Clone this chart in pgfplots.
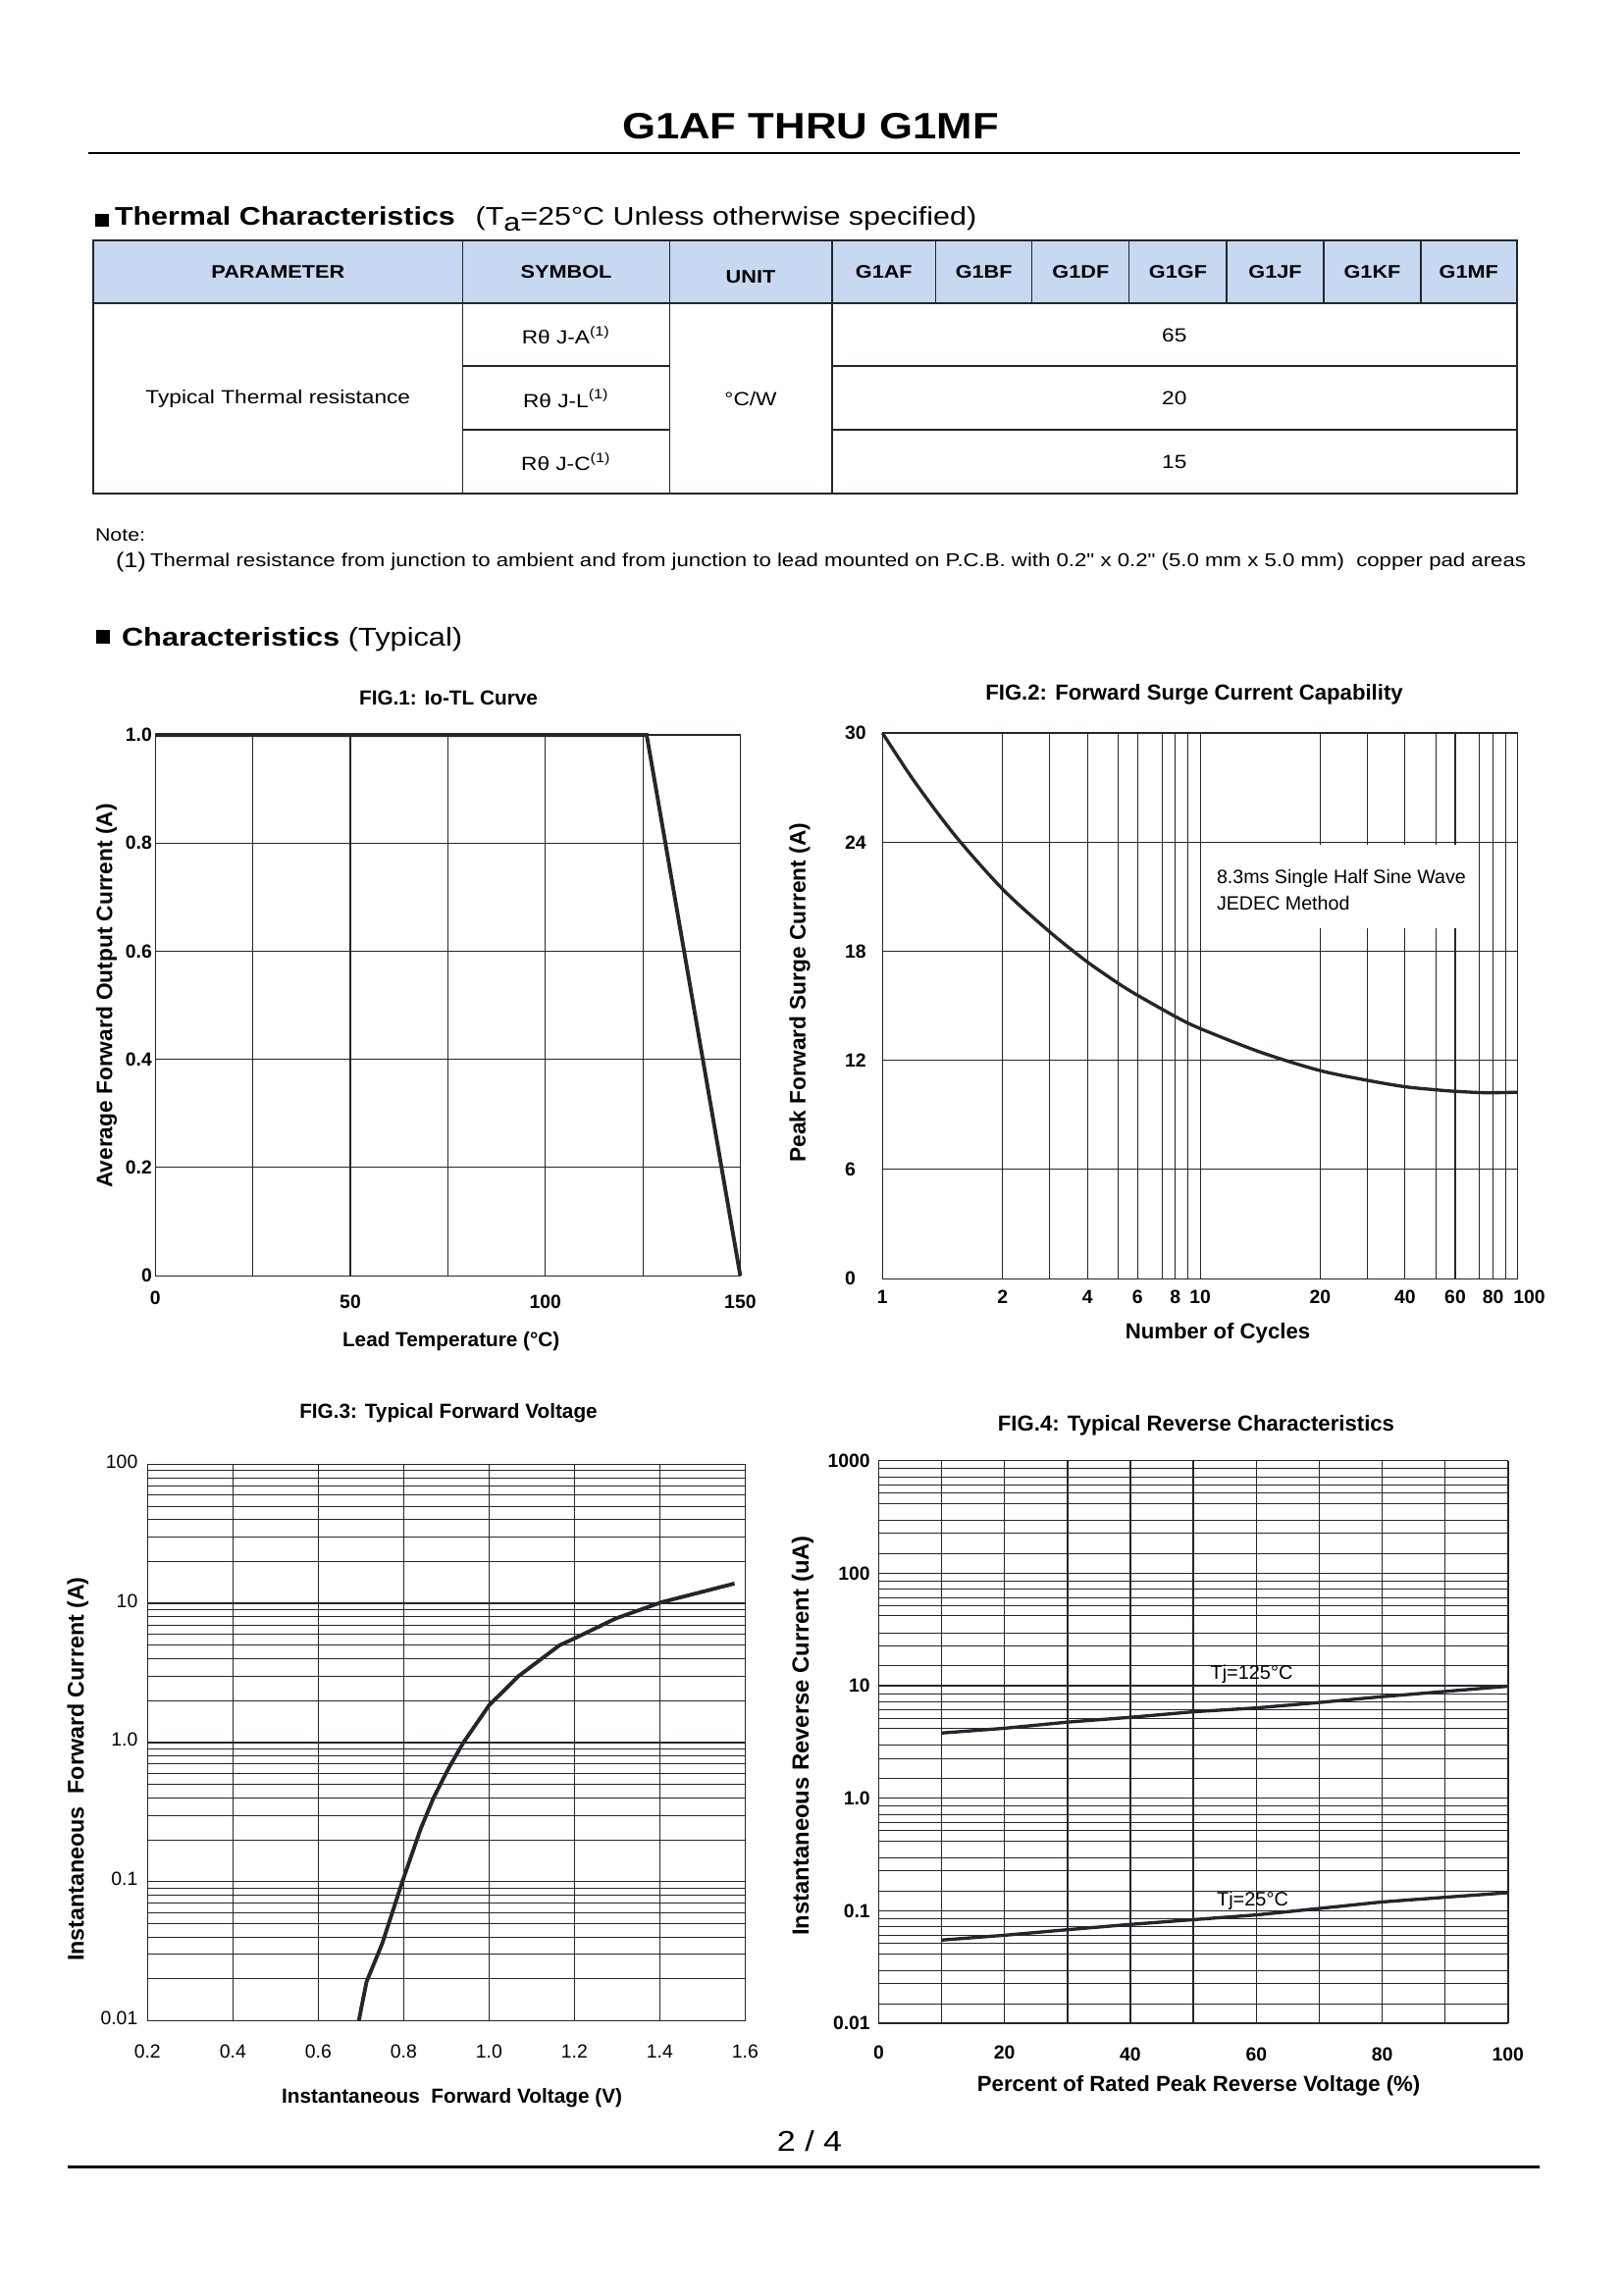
\documentclass[border=0pt]{standalone}
\usepackage{fontspec}
\setmainfont{Liberation Sans}
\newfontfamily\wide[FakeStretch=1.17]{Liberation Sans}
\usepackage{pgfplots}
\pgfplotsset{compat=1.18}

\definecolor{ink}{HTML}{23262B}
\definecolor{hdr}{HTML}{C6D9F1}
\newcommand\fs[1]{\fontsize{#1}{#1}\selectfont}
\newcommand\tk{\fontsize{7}{8}\selectfont\bfseries}

\pgfplotsset{
  dsheet/.style={
    scale only axis, anchor=south west, clip=false,
    axis line style={draw=ink, line width=0.45pt},
    grid=both,
    major grid style={draw=ink, line width=0.4pt},
    minor grid style={draw=ink, line width=0.35pt},
    tick style={draw=none}, major tick length=0pt, minor tick length=0pt,
  },
}

\begin{document}
% page coordinates in pixels of the 1654x2339 sheet, y running down
\begin{tikzpicture}[x=0.12696mm, y=-0.12696mm, every node/.style={inner sep=0pt, outer sep=0pt}]
\path[use as bounding box, fill=white] (0,0) rectangle (1654,2339);

% ---- page header
\node[font=\wide\fs{13.5}\bfseries] at (826,128.3) {G1AF THRU G1MF};
\draw[line width=1pt] (89.7,156) -- (1548.5,156);

\fill (97,218) rectangle (110.5,230.7);
\node[anchor=base west, font=\wide\fs{9.4}] at (117,229.5)
  {\textbf{Thermal Characteristics}\hspace{0.8em}(T\raisebox{-0.45ex}{a}=25°C Unless otherwise specified)};

% ---- thermal table
\fill[hdr] (95,245) rectangle (1545.6,309);
\foreach \x in {471.5,682.5,848} \draw[ink, line width=0.4pt] (\x,245) -- (\x,502.7);
\foreach \x in {953.6,1051.7,1150.9,1250,1349,1448} \draw[ink, line width=0.4pt] (\x,245) -- (\x,309);
\draw[ink, line width=0.8pt] (95,245) rectangle (1545.6,502.7);
\draw[ink, line width=0.8pt] (95,309) -- (1545.6,309);
\foreach \y in {373.3,437.7} {
  \draw[ink, line width=0.8pt] (471.5,\y) -- (682.5,\y);
  \draw[ink, line width=0.8pt] (848,\y) -- (1545.6,\y);
}
\begin{scope}[every node/.append style={font=\wide\fs{6.7}\bfseries}]
  \node at (283.3,277.5) {PARAMETER};
  \node at (577,277.5) {SYMBOL};
  \node at (765,282) {UNIT};
  \node at (900.8,277.5) {G1AF};
  \node at (1002.7,277.5) {G1BF};
  \node at (1101.3,277.5) {G1DF};
  \node at (1200.5,277.5) {G1GF};
  \node at (1299.5,277.5) {G1JF};
  \node at (1398.5,277.5) {G1KF};
  \node at (1496.8,277.5) {G1MF};
\end{scope}
\begin{scope}[every node/.append style={font=\wide\fs{7}}]
  \node at (283.3,406) {Typical Thermal resistance};
  \node at (577,341.7) {Rθ J-A\textsuperscript{(1)}};
  \node at (577,406) {Rθ J-L\textsuperscript{(1)}};
  \node at (577,470.5) {Rθ J-C\textsuperscript{(1)}};
  \node at (765,406.7) {°C/W};
  \node at (1196.8,341.7) {65};
  \node at (1196.8,406) {20};
  \node at (1196.8,470.5) {15};
\end{scope}

\node[anchor=west, font=\wide\fs{6.6}] at (97,545) {Note:};
\node[anchor=west, font=\wide\fs{7.8}] at (118,573) {(1)};
\node[anchor=west] at (153,573) {\resizebox{178mm}{!}{\wide\fs{7}Thermal resistance from junction to ambient and from junction to lead mounted on P.C.B. with 0.2" x 0.2" (5.0 mm x 5.0 mm)\ \ copper pad areas}};

\fill (97.5,642) rectangle (112,656.5);
\node[anchor=base west, font=\wide\fs{9.5}] at (124,659) {\textbf{Characteristics} (Typical)};

% ---- FIG.1
\begin{axis}[dsheet, at={(20.10mm,-165.05mm)}, width=75.67mm, height=69.95mm,
  xmin=0, xmax=150, ymin=0, ymax=1,
  xtick={0,25,50,75,100,125,150}, xticklabels={\raisebox{1mm}{0},,50,,100,,150},
  ytick={0,0.2,0.4,0.6,0.8,1}, yticklabels={0,0.2,0.4,0.6,0.8,1.0},
  xticklabel style={font=\tk, anchor=center, yshift=-3.43mm},
  yticklabel style={font=\tk, anchor=east, xshift=-0.45mm},
]
\addplot[ink, line width=1.4pt] coordinates {(0,1) (126,1) (150,0)};
\end{axis}
\node[font=\fs{7.5}\bfseries] at (457,711.7) {FIG.1: Io-TL Curve};
\node[font=\fs{8.2}\bfseries, rotate=90] at (108.5,1015) {Average Forward Output Current (A)};
\node[font=\fs{7.5}\bfseries] at (459.7,1367) {Lead Temperature (°C)};

% ---- FIG.2 (x in decades from 1 cycle, at the positions of the printed grid)
\begin{axis}[dsheet, at={(114.17mm,-165.43mm)}, width=82.19mm, height=70.59mm,
  xmin=0, xmax=2, ymin=0, ymax=30,
  xtick={0,0.378,0.526,0.645,0.743,0.803,0.880,0.922,0.962,1,1.378,1.526,1.645,1.743,1.803,1.880,1.922,1.962,2},
  xticklabels={1,2,,4,,6,,8,,10,20,,40,,60,,80,,\hspace{3mm}100},
  ytick={0,6,12,18,24,30}, yticklabels={0,6,12,18,24,30},
  xticklabel style={font=\tk, anchor=center, yshift=-2.37mm},
  yticklabel style={font=\tk, anchor=west, xshift=-4.86mm},
]
\fill[white] (axis cs:1.03,19.26) rectangle (axis cs:1.86,23.88);
\addplot[ink, line width=1.2pt, smooth] coordinates {
  (0,30) (0.1,27.35) (0.229,24.35) (0.379,21.4) (0.524,19.1) (0.642,17.45)
  (0.741,16.25) (0.801,15.6) (0.923,14.4) (1.0,13.75) (1.19,12.45) (1.375,11.45)
  (1.527,10.9) (1.645,10.55) (1.743,10.38) (1.801,10.3) (1.9,10.22) (2.0,10.25)
};
\end{axis}
\node[font=\fs{8}\bfseries] at (1217,708) {FIG.2: Forward Surge Current Capability};
\node[font=\fs{8.2}\bfseries, rotate=90] at (815,1011.7) {Peak Forward Surge Current (A)};
\node[font=\fs{8}\bfseries] at (1241,1358.6) {Number of Cycles};
\node[anchor=west, font=\fs{7.1}] at (1240,895) {8.3ms Single Half Sine Wave};
\node[anchor=west, font=\fs{7.1}] at (1240,920) {JEDEC Method};

% ---- FIG.3
\begin{axis}[dsheet, at={(19.08mm,-261.45mm)}, width=77.32mm, height=71.99mm,
  xmin=0.2, xmax=1.6, ymode=log, ymin=0.01, ymax=100,
  xtick={0.2,0.4,0.6,0.8,1.0,1.2,1.4,1.6}, xticklabels={0.2,0.4,0.6,0.8,1.0,1.2,1.4,1.6},
  ytick={0.01,0.1,1,10,100}, yticklabels={0.01,0.1,1.0,10,100},
  minor ytick={0.02,0.03,0.04,0.05,0.06,0.07,0.08,0.09,
    0.2,0.3,0.4,0.5,0.6,0.7,0.8,0.9, 2,3,4,5,6,7,8,9, 20,30,40,50,60,70,80,90},
  major grid style={draw=ink, line width=0.5pt},
  xticklabel style={font=\fs{7}, anchor=center, yshift=-3.94mm},
  yticklabel style={font=\fs{7}, anchor=east, xshift=-1.27mm, yshift=0.35mm},
]
\addplot[ink, line width=1.4pt] coordinates {
  (0.695,0.01) (0.713,0.019) (0.75,0.036) (0.797,0.1) (0.84,0.24) (0.87,0.4)
  (0.905,0.65) (0.94,1.0) (1.0,1.85) (1.069,3.0) (1.165,5.0) (1.2,5.6)
  (1.297,7.8) (1.404,10.2) (1.575,13.9)
};
\end{axis}
\node[font=\fs{7.5}\bfseries] at (457,1440) {FIG.3: Typical Forward Voltage};
\node[font=\fs{8.4}\bfseries, rotate=90] at (79.4,1803) {Instantaneous\ \ Forward Current (A)};
\node[font=\fs{7.5}\bfseries] at (460.6,2138.4) {Instantaneous\ \ Forward Voltage (V)};

% ---- FIG.4
\begin{axis}[dsheet, at={(113.67mm,-261.79mm)}, width=81.43mm, height=72.81mm,
  xmin=0, xmax=100, ymode=log, ymin=0.01, ymax=1000,
  xtick={0,10,20,30,40,50,60,70,80,90,100},
  xticklabels={\raisebox{0.6mm}{0},,\raisebox{0.45mm}{20},,40,,60,,80,,100},
  ytick={0.01,0.1,1,10,100,1000}, yticklabels={0.01,0.1,1.0,10,100,1000},
  minor ytick={0.015,0.02265,0.02951,0.04169,0.0514,0.06067,0.07194,0.08492,
    0.15,0.2265,0.2951,0.4169,0.514,0.6067,0.7194,0.8492,
    1.5,2.265,2.951,4.169,5.14,6.067,7.194,8.492,
    15,22.65,29.51,41.69,51.4,60.67,71.94,84.92,
    150,226.5,295.1,416.9,514,606.7,719.4,849.2},
  major grid style={draw=ink, line width=0.5pt},
  xticklabel style={font=\tk, anchor=center, yshift=-4.0mm},
  yticklabel style={font=\tk, anchor=east, xshift=-1.1mm},
]
\addplot[ink, line width=1.2pt] coordinates {
  (10,3.8) (20,4.19) (30,4.75) (40,5.24) (50,5.87) (60,6.35) (70,7.1) (80,8.0) (90,8.9) (100,9.9)
};
\addplot[ink, line width=1.2pt] coordinates {
  (10,0.055) (20,0.0607) (30,0.068) (40,0.0758) (50,0.0835) (60,0.092) (70,0.105) (80,0.12) (90,0.132) (100,0.145)
};
\end{axis}
\node[font=\fs{8}\bfseries] at (1219,1453) {FIG.4: Typical Reverse Characteristics};
\node[font=\fs{8.6}\bfseries, rotate=90] at (818,1769) {Instantaneous Reverse Current (uA)};
\node[font=\fs{8}\bfseries] at (1221.6,2126) {Percent of Rated Peak Reverse Voltage (\%)};
\node[font=\fs{7.2}] at (1275.5,1706) {Tj=125°C};
\node[font=\fs{7.2}] at (1276.5,1937.7) {Tj=25°C};

% ---- footer
\node[font=\wide\fs{10.5}] at (825,2182) {2 / 4};
\draw[line width=1.2pt] (68.6,2208.3) -- (1568.6,2208.3);
\end{tikzpicture}
\end{document}
